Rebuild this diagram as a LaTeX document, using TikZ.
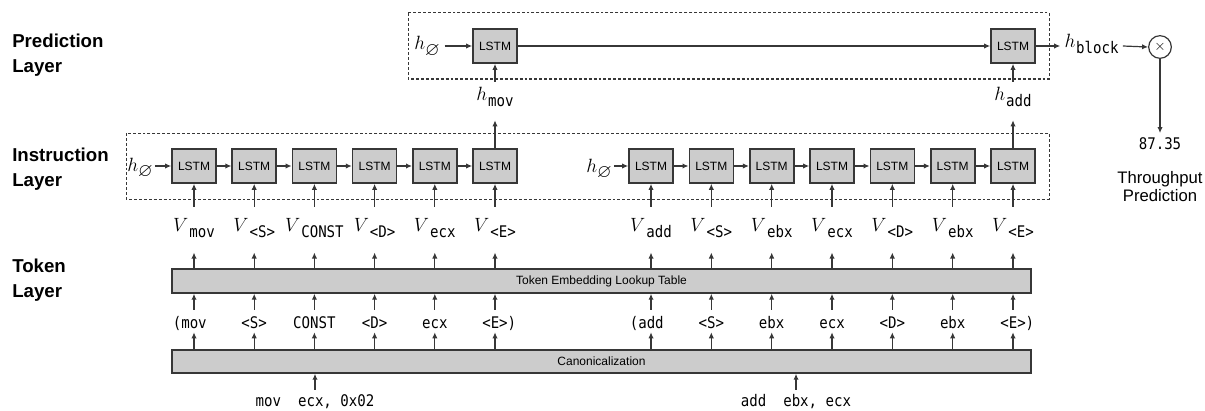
\documentclass[tikz,border=0pt]{standalone}
\usepackage{amssymb}
\usepackage{fontspec}
\setmainfont{Liberation Sans}
\setmonofont[FakeStretch=0.88]{DejaVu Sans Mono}
\usetikzlibrary{arrows.meta}

\definecolor{boxgray}{RGB}{204,204,204}
\definecolor{edgegray}{RGB}{55,55,55}

% label helpers: italic symbol with a lowered typewriter subscript
\newcommand{\bigsym}[1]{{\fontsize{14}{14}\selectfont$#1$}}
\newcommand{\Vsub}[1]{\bigsym{V}\kern0.8pt\raisebox{-4.5pt}{\ttfamily #1}}
\newcommand{\Hsub}[1]{\bigsym{h}\kern0.6pt\raisebox{-4.5pt}{\ttfamily #1}}
\newcommand{\Hnull}{\bigsym{h}\raisebox{-4pt}{\bigsym{\varnothing}}}

\tikzset{
  lstm/.style={draw=edgegray, line width=1.2pt, fill=boxgray,
    minimum width=33pt, minimum height=25.5pt, inner sep=0pt,
    font=\fontsize{9}{10}\selectfont},
  bar/.style={draw=edgegray, line width=1.1pt, fill=boxgray,
    minimum width=644.25pt, inner sep=0pt, font=\fontsize{9}{10}\selectfont},
  arr/.style={draw=edgegray, line width=0.9pt, -{Latex[length=4.5pt,width=4pt]}},
  frame/.style={draw=edgegray, line width=0.75pt, dash pattern=on 2.2pt off 1.5pt},
  layer/.style={font=\fontsize{14}{19}\selectfont\bfseries, align=left,
    anchor=west, inner sep=0pt},
  vlab/.style={inner xsep=0pt, inner ysep=8.9pt, text height=9pt, text depth=7pt,
    font=\fontsize{12}{14}\selectfont},
  hlab/.style={inner xsep=3pt, inner ysep=4.5pt, text height=9pt, text depth=7pt,
    font=\fontsize{12}{14}\selectfont},
  hnull/.style={inner xsep=1.5pt, inner ysep=1pt, anchor=base,
    font=\fontsize{12}{14}\selectfont},
  tok/.style={inner xsep=0pt, inner ysep=1pt, text height=12.5pt, text depth=2pt,
    font=\fontsize{12}{14}\selectfont\ttfamily},
  code/.style={inner xsep=0pt, inner ysep=3pt, text height=9pt, text depth=2.5pt,
    font=\fontsize{12}{14}\selectfont\ttfamily},
}

\begin{document}
\begin{tikzpicture}[x=0.75pt, y=-0.75pt]
\useasboundingbox (0,0) rectangle (1205,410);

% layer captions
\node[layer] (capP) at (12,55)  {Prediction\\Layer};
\node[layer] (capI) at (12,169) {Instruction\\Layer};
\node[layer] (capT) at (12,280) {Token\\Layer};

% dashed frames around the two recurrent layers
\draw[frame] (408,13) rectangle (1049,79);
\draw[frame] (126,133) rectangle (1049,199);

% instruction-layer LSTM chains
\foreach \i/\x in {1/194,2/254.2,3/314.4,4/374.6,5/434.8,6/495}
  \node[lstm] (a\i) at (\x,166) {LSTM};
\foreach \i/\x in {1/651,2/711.3,3/771.7,4/832,5/892.3,6/952.7,7/1013}
  \node[lstm] (b\i) at (\x,166) {LSTM};
\foreach \i [evaluate=\i as \j using int(\i+1)] in {1,...,5}
  \draw[arr] (a\i.east) -- (a\j.west);
\foreach \i [evaluate=\i as \j using int(\i+1)] in {1,...,6}
  \draw[arr] (b\i.east) -- (b\j.west);

\node[hnull] (ha) at (140,171) {\Hnull};
\node[hnull] (hb) at (599,172) {\Hnull};
\draw[arr] (ha.east |- a1.west) -- (a1.west);
\draw[arr] (hb.east |- b1.west) -- (b1.west);

% prediction layer
\node[lstm] (p1) at (495,46) {LSTM};
\node[lstm] (p2) at (1013,46) {LSTM};
\node[hnull] (hp) at (427,50) {\Hnull};
\draw[arr] (hp.east |- p1.west) ++(2pt,0) -- (p1.west);
\draw[arr] (p1.east) -- (p2.west);

\node[hlab] (hmov) at (495,98.7) {\Hsub{mov}};
\node[hlab] (hadd) at (1013,98.7) {\Hsub{add}};
\draw[arr, shorten >=3.5pt] (a6.north) -- (hmov.south);
\draw[arr] (hmov.north) -- (p1.south);
\draw[arr, shorten >=3.5pt] (b7.north) -- (hadd.south);
\draw[arr] (hadd.north) -- (p2.south);

\node[hlab] (hblock) at (1091.5,46) {\Hsub{block}};
\node[circle, draw=edgegray, line width=0.9pt, minimum size=17pt, inner sep=0pt,
  font=\fontsize{11}{11}\selectfont] (mult) at (1160,47) {$\times$};
\draw[arr] (p2.east) -- (hblock.west);
\draw[arr] (hblock.east) -- (mult.west);

\node[code] (res) at (1160,145) {87.35};
\node[font=\fontsize{12.5}{13.5}\selectfont, align=center, inner sep=0pt] (tp)
  at (1160,187) {Throughput\\Prediction};
\draw[arr] (mult.south) -- (res.north);

% embedding vectors
\foreach \i/\x/\t in {1/194/mov,2/254.2/<S>,3/314.4/CONST,4/374.6/<D>,5/434.8/ecx,6/495/<E>}
  \node[vlab] (va\i) at (\x,229.7) {\Vsub{\t}};
\foreach \i/\x/\t in {1/651/add,2/711.3/<S>,3/771.7/ebx,4/832/ecx,5/892.3/<D>,6/952.7/ebx,7/1013/<E>}
  \node[vlab] (vb\i) at (\x,229.7) {\Vsub{\t}};
\foreach \i in {1,...,6} \draw[arr] (va\i.north) -- (a\i.south);
\foreach \i in {1,...,7} \draw[arr] (vb\i.north) -- (b\i.south);

% lookup table and canonicalization bars
\node[bar, minimum height=18pt] (tbl) at (601.5,281) {Token Embedding Lookup Table};
\node[bar, minimum height=17.25pt] (canon) at (601.5,361.5) {Canonicalization};

\foreach \i in {1,...,6} \draw[arr] (tbl.north -| va\i) -- (va\i.south);
\foreach \i in {1,...,7} \draw[arr] (tbl.north -| vb\i) -- (vb\i.south);

% canonical tokens
\foreach \i/\x/\t in {1/194/\llap{(}mov,2/254.2/<S>,3/314.4/CONST,4/374.6/<D>,5/434.8/ecx,6/495/<E>\rlap{)}}
  \node[tok] (ta\i) at (\x,321) {\t};
\foreach \i/\x/\t in {1/651/\llap{(}add,2/711.3/<S>,3/771.7/ebx,4/832/ecx,5/892.3/<D>,6/952.7/ebx,7/1013/<E>\rlap{)}}
  \node[tok] (tb\i) at (\x,321) {\t};
\foreach \i in {1,...,6} {
  \draw[arr] (ta\i.north) -- (ta\i.north |- tbl.south);
  \draw[arr] (canon.north -| ta\i) -- (ta\i.south);
}
\foreach \i in {1,...,7} {
  \draw[arr] (tb\i.north) -- (tb\i.north |- tbl.south);
  \draw[arr] (canon.north -| tb\i) -- (tb\i.south);
}

% raw instructions
\node[code] (ina) at (315,401.7) {mov~~ecx,~0x02};
\node[code] (inb) at (796,401.7) {add~~ebx,~ecx};
\draw[arr] (ina.north) -- (ina.north |- canon.south);
\draw[arr] (inb.north) -- (inb.north |- canon.south);
\end{tikzpicture}
\end{document}
